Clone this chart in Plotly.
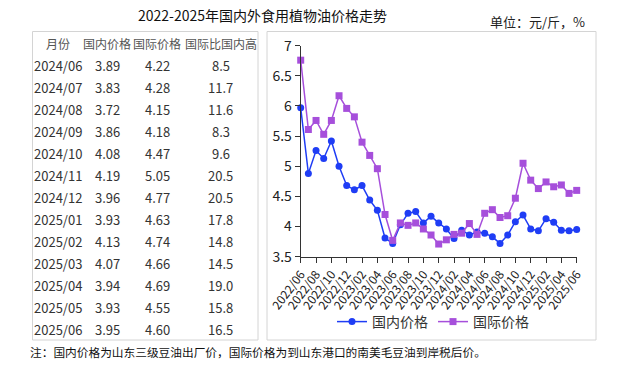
import plotly.graph_objects as go

# ---------------- data ----------------
months = ["2022/06", "2022/07", "2022/08", "2022/09", "2022/10", "2022/11", "2022/12",
          "2023/01", "2023/02", "2023/03", "2023/04", "2023/05", "2023/06", "2023/07",
          "2023/08", "2023/09", "2023/10", "2023/11", "2023/12", "2024/01", "2024/02",
          "2024/03", "2024/04", "2024/05", "2024/06", "2024/07", "2024/08", "2024/09",
          "2024/10", "2024/11", "2024/12", "2025/01", "2025/02", "2025/03", "2025/04",
          "2025/05", "2025/06"]
domestic = [5.97, 4.88, 5.26, 5.13, 5.42, 5.00, 4.68, 4.61, 4.68, 4.44, 4.27, 3.81, 3.72,
            4.03, 4.22, 4.25, 4.06, 4.17, 4.06, 3.96, 3.80, 3.94, 3.86, 3.91,
            3.89, 3.83, 3.72, 3.86, 4.08, 4.19, 3.96, 3.93, 4.13, 4.07, 3.94, 3.93, 3.95]
international = [6.76, 5.61, 5.76, 5.53, 5.76, 6.17, 5.96, 5.82, 5.40, 5.18, 4.96, 4.20, 3.77,
                 4.06, 4.02, 4.06, 3.96, 3.86, 3.71, 3.78, 3.87, 3.89, 4.05, 3.87,
                 4.22, 4.28, 4.15, 4.18, 4.47, 5.05, 4.77, 4.63, 4.74, 4.66, 4.69, 4.55, 4.60]

table_header = ["月份", "国内价格", "国际价格", "国际比国内高"]
table_months = ["2024/06", "2024/07", "2024/08", "2024/09", "2024/10", "2024/11", "2024/12",
                "2025/01", "2025/02", "2025/03", "2025/04", "2025/05", "2025/06"]
table_dom = ["3.89", "3.83", "3.72", "3.86", "4.08", "4.19", "3.96",
             "3.93", "4.13", "4.07", "3.94", "3.93", "3.95"]
table_int = ["4.22", "4.28", "4.15", "4.18", "4.47", "5.05", "4.77",
             "4.63", "4.74", "4.66", "4.69", "4.55", "4.60"]
table_gap = ["8.5", "11.7", "11.6", "8.3", "9.6", "20.5", "20.5",
             "17.8", "14.8", "14.5", "19.0", "15.8", "16.5"]

title_text = "2022-2025年国内外食用植物油价格走势"
unit_text = "单位：元/斤，%"
note_text = "注：国内价格为山东三级豆油出厂价，国际价格为到山东港口的南美毛豆油到岸税后价。"
series_names = ["国内价格", "国际价格"]

# ---------------- figure ----------------
W, H = 617, 377
def px(x):
    return x / W
def py(y):
    return 1 - y / H

FONT = "Noto Sans CJK SC"
idx = list(range(len(months)))

fig = go.Figure()
fig.add_trace(go.Scatter(
    x=idx, y=domestic, name=series_names[0], mode="lines+markers",
    line=dict(color="#1f3df5", width=1.5),
    marker=dict(symbol="circle", size=7, color="#1f3df5"),
    cliponaxis=False))
fig.add_trace(go.Scatter(
    x=idx, y=international, name=series_names[1], mode="lines+markers",
    line=dict(color="#a64fdb", width=1.5),
    marker=dict(symbol="square", size=7, color="#a64fdb"),
    cliponaxis=False))

tickvals = idx[::2]
ticktext = months[::2]

fig.update_layout(
    width=W, height=H,
    margin=dict(l=0, r=0, t=0, b=0, autoexpand=False),
    paper_bgcolor="white", plot_bgcolor="white",
    font=dict(family=FONT, color="#222"),
    showlegend=True,
    legend=dict(orientation="h", x=px(433), y=py(322), xanchor="center", yanchor="middle",
                font=dict(size=14, color="#333"), bgcolor="rgba(0,0,0,0)"),
    xaxis=dict(domain=[px(300.7), px(576.7)], range=[0, 36], tickmode="array",
               tickvals=tickvals, ticktext=ticktext, tickangle=-53,
               showline=True, linecolor="#333", linewidth=1,
               ticks="outside", ticklen=5, tickcolor="#333",
               showgrid=False, zeroline=False, automargin=False,
               tickfont=dict(size=12, color="#222")),
    yaxis=dict(domain=[py(256.7), py(45.7)], range=[3.5, 7], dtick=0.5,
               showline=True, linecolor="#333", linewidth=1,
               ticks="outside", ticklen=5, tickcolor="#333",
               showgrid=False, zeroline=False, automargin=False,
               tickfont=dict(size=14, color="#222")),
)

# boxes
shapes = [
    dict(type="rect", xref="paper", yref="paper", x0=px(32.5), x1=px(258), y0=py(340), y1=py(31.5),
         line=dict(color="#d4d4d4", width=1)),
    dict(type="rect", xref="paper", yref="paper", x0=px(267), x1=px(596), y0=py(340), y1=py(31.5),
         line=dict(color="#d4d4d4", width=1)),
]
fig.update_layout(shapes=shapes)

ann = []
# title & unit
ann.append(dict(text=title_text, x=px(262), y=py(15), xref="paper", yref="paper",
                showarrow=False, xanchor="center", yanchor="middle",
                font=dict(size=14, color="#111")))
ann.append(dict(text=unit_text, x=px(587), y=py(21), xref="paper", yref="paper",
                showarrow=False, xanchor="right", yanchor="middle",
                font=dict(size=13, color="#222")))
# note
ann.append(dict(text=note_text, x=px(28), y=py(351), xref="paper", yref="paper",
                showarrow=False, xanchor="left", yanchor="middle",
                font=dict(size=11.7, color="#111")))

# table
col_x = [57.5, 107, 157, 220.5]
for c, h in enumerate(table_header):
    ann.append(dict(text=h, x=px(col_x[c]), y=py(43.5), xref="paper", yref="paper",
                    showarrow=False, xanchor="center", yanchor="middle",
                    font=dict(size=12, color="#555")))
for r in range(len(table_months)):
    yy = 65 + r * 22.08
    for c, col in enumerate([table_months, table_dom, table_int, table_gap]):
        ann.append(dict(text=col[r], x=px(col_x[c]), y=py(yy), xref="paper", yref="paper",
                        showarrow=False, xanchor="center", yanchor="middle",
                        font=dict(size=13, color="#333")))
fig.update_layout(annotations=ann)

fig.write_html("out.html", config={"displayModeBar": False},
               post_script="document.body.style.margin='0';")
